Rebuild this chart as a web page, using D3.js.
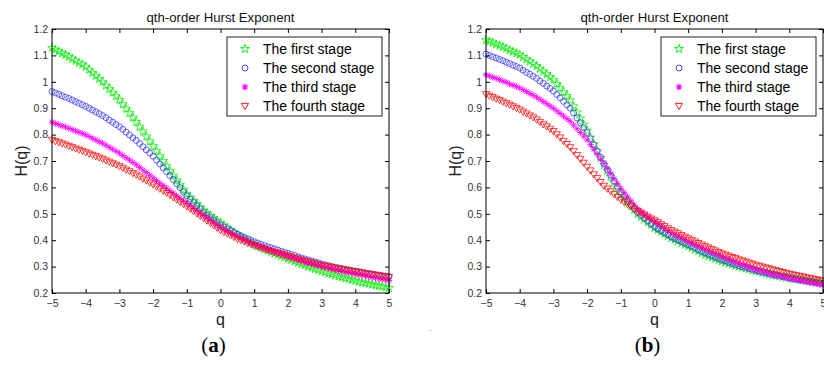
<!DOCTYPE html>
<html>
<head>
<meta charset="utf-8">
<script src="https://cdn.jsdelivr.net/npm/d3@7"></script>
<style>
  html, body { margin: 0; padding: 0; background: #ffffff; }
  svg { display: block; font-family: Arial, "Liberation Sans", Helvetica, sans-serif; }
</style>
</head>
<body>
<svg id="chart" width="824" height="365"></svg>
<script>
// ---------- data ----------
const q = [-5,-4.9,-4.8,-4.7,-4.6,-4.5,-4.4,-4.3,-4.2,-4.1,-4,-3.9,-3.8,-3.7,-3.6,-3.5,-3.4,-3.3,-3.2,-3.1,-3,-2.9,-2.8,-2.7,-2.6,-2.5,-2.4,-2.3,-2.2,-2.1,-2,-1.9,-1.8,-1.7,-1.6,-1.5,-1.4,-1.3,-1.2,-1.1,-1,-0.9,-0.8,-0.7,-0.6,-0.5,-0.4,-0.3,-0.2,-0.1,0,0.1,0.2,0.3,0.4,0.5,0.6,0.7,0.8,0.9,1,1.1,1.2,1.3,1.4,1.5,1.6,1.7,1.8,1.9,2,2.1,2.2,2.3,2.4,2.5,2.6,2.7,2.8,2.9,3,3.1,3.2,3.3,3.4,3.5,3.6,3.7,3.8,3.9,4,4.1,4.2,4.3,4.4,4.5,4.6,4.7,4.8,4.9,5];

const stageNames = ["The first stage", "The second stage", "The third stage", "The fourth stage"];

// panel (a)
const aFirst = [1.128,1.121,1.115,1.108,1.102,1.095,1.087,1.080,1.072,1.065,1.057,1.046,1.034,1.023,1.011,1.000,0.986,0.973,0.959,0.946,0.932,0.915,0.898,0.882,0.865,0.848,0.830,0.812,0.793,0.775,0.757,0.738,0.719,0.700,0.681,0.662,0.645,0.627,0.610,0.592,0.575,0.562,0.550,0.537,0.525,0.512,0.503,0.493,0.484,0.474,0.465,0.456,0.447,0.438,0.429,0.420,0.413,0.405,0.398,0.390,0.383,0.377,0.372,0.366,0.361,0.355,0.350,0.345,0.340,0.335,0.330,0.325,0.320,0.315,0.310,0.305,0.300,0.296,0.291,0.287,0.282,0.278,0.274,0.271,0.267,0.263,0.260,0.256,0.253,0.250,0.246,0.243,0.240,0.238,0.235,0.232,0.229,0.227,0.224,0.222,0.219];
const aSecond = [0.963,0.958,0.953,0.947,0.942,0.937,0.931,0.925,0.919,0.913,0.907,0.900,0.893,0.886,0.879,0.872,0.864,0.855,0.847,0.838,0.830,0.820,0.809,0.799,0.788,0.778,0.766,0.754,0.742,0.730,0.718,0.703,0.689,0.674,0.660,0.645,0.630,0.614,0.599,0.583,0.568,0.555,0.543,0.530,0.518,0.505,0.495,0.486,0.476,0.467,0.457,0.450,0.443,0.437,0.430,0.423,0.417,0.411,0.406,0.400,0.394,0.389,0.385,0.380,0.375,0.371,0.367,0.363,0.358,0.354,0.350,0.346,0.342,0.337,0.333,0.329,0.325,0.321,0.318,0.314,0.310,0.307,0.304,0.301,0.298,0.295,0.293,0.290,0.288,0.285,0.283,0.281,0.279,0.276,0.274,0.272,0.270,0.268,0.266,0.264,0.262];
const aThird = [0.847,0.842,0.838,0.833,0.829,0.824,0.819,0.814,0.809,0.804,0.799,0.793,0.786,0.780,0.773,0.767,0.760,0.752,0.745,0.737,0.730,0.721,0.712,0.704,0.695,0.686,0.676,0.666,0.656,0.646,0.636,0.626,0.616,0.607,0.597,0.587,0.578,0.568,0.559,0.549,0.540,0.531,0.521,0.512,0.502,0.493,0.484,0.475,0.466,0.457,0.448,0.441,0.434,0.427,0.420,0.413,0.407,0.401,0.396,0.390,0.384,0.379,0.374,0.370,0.365,0.360,0.356,0.351,0.347,0.342,0.338,0.334,0.330,0.326,0.322,0.318,0.314,0.311,0.307,0.304,0.300,0.297,0.294,0.291,0.288,0.285,0.282,0.280,0.277,0.275,0.272,0.269,0.267,0.264,0.262,0.259,0.257,0.254,0.252,0.249,0.247];
const aFourth = [0.780,0.775,0.771,0.766,0.762,0.757,0.752,0.747,0.743,0.738,0.733,0.728,0.723,0.718,0.713,0.708,0.702,0.697,0.691,0.686,0.680,0.674,0.667,0.661,0.654,0.648,0.641,0.633,0.626,0.618,0.611,0.603,0.595,0.587,0.579,0.571,0.562,0.554,0.545,0.537,0.528,0.519,0.510,0.501,0.492,0.483,0.474,0.465,0.456,0.447,0.438,0.431,0.425,0.418,0.412,0.405,0.400,0.395,0.390,0.385,0.380,0.376,0.372,0.367,0.363,0.359,0.355,0.351,0.348,0.344,0.340,0.336,0.332,0.329,0.325,0.321,0.318,0.315,0.311,0.308,0.305,0.302,0.300,0.297,0.295,0.292,0.290,0.288,0.285,0.283,0.281,0.279,0.277,0.274,0.272,0.270,0.268,0.266,0.264,0.262,0.260];

// panel (b)
const bFirst = [1.158,1.153,1.148,1.142,1.137,1.132,1.126,1.120,1.114,1.108,1.102,1.094,1.085,1.077,1.068,1.060,1.050,1.039,1.029,1.018,1.008,0.992,0.977,0.961,0.946,0.930,0.907,0.884,0.861,0.838,0.815,0.789,0.763,0.737,0.711,0.685,0.663,0.641,0.619,0.597,0.575,0.560,0.545,0.530,0.515,0.500,0.489,0.479,0.468,0.458,0.447,0.439,0.431,0.424,0.416,0.408,0.402,0.396,0.389,0.383,0.377,0.371,0.364,0.358,0.351,0.345,0.340,0.335,0.330,0.325,0.320,0.316,0.312,0.308,0.304,0.300,0.297,0.293,0.290,0.286,0.283,0.280,0.277,0.274,0.271,0.268,0.266,0.263,0.261,0.258,0.256,0.254,0.252,0.250,0.248,0.246,0.244,0.242,0.241,0.239,0.237];
const bSecond = [1.105,1.100,1.095,1.090,1.085,1.080,1.074,1.069,1.063,1.058,1.052,1.044,1.036,1.029,1.021,1.013,1.003,0.994,0.984,0.975,0.965,0.952,0.939,0.926,0.913,0.900,0.882,0.863,0.845,0.826,0.808,0.784,0.761,0.737,0.714,0.690,0.668,0.647,0.625,0.604,0.582,0.567,0.551,0.536,0.520,0.505,0.494,0.483,0.472,0.461,0.450,0.442,0.435,0.427,0.420,0.412,0.406,0.400,0.395,0.389,0.383,0.377,0.371,0.364,0.358,0.352,0.347,0.342,0.336,0.331,0.326,0.322,0.317,0.313,0.308,0.304,0.300,0.297,0.293,0.290,0.286,0.283,0.280,0.277,0.274,0.271,0.268,0.266,0.263,0.261,0.258,0.256,0.254,0.251,0.249,0.247,0.245,0.243,0.240,0.238,0.236];
const bThird = [1.027,1.022,1.017,1.013,1.008,1.003,0.998,0.992,0.987,0.982,0.977,0.970,0.963,0.956,0.949,0.942,0.934,0.925,0.917,0.908,0.900,0.890,0.880,0.870,0.860,0.850,0.836,0.822,0.808,0.794,0.780,0.762,0.744,0.726,0.708,0.690,0.671,0.652,0.633,0.614,0.595,0.580,0.564,0.549,0.533,0.518,0.508,0.499,0.489,0.480,0.470,0.462,0.453,0.445,0.436,0.428,0.421,0.415,0.408,0.402,0.395,0.389,0.383,0.377,0.371,0.365,0.360,0.354,0.349,0.343,0.338,0.333,0.328,0.322,0.317,0.312,0.307,0.302,0.298,0.293,0.288,0.285,0.281,0.278,0.274,0.271,0.268,0.265,0.261,0.258,0.255,0.252,0.250,0.247,0.245,0.242,0.240,0.237,0.235,0.232,0.230];
const bFourth = [0.953,0.947,0.942,0.936,0.931,0.925,0.919,0.913,0.907,0.901,0.895,0.887,0.880,0.872,0.865,0.857,0.848,0.839,0.831,0.822,0.813,0.801,0.789,0.776,0.764,0.752,0.737,0.722,0.708,0.693,0.678,0.664,0.649,0.635,0.620,0.606,0.595,0.585,0.574,0.564,0.553,0.545,0.536,0.528,0.519,0.511,0.504,0.497,0.489,0.482,0.475,0.468,0.460,0.453,0.445,0.438,0.432,0.426,0.419,0.413,0.407,0.401,0.395,0.389,0.383,0.377,0.372,0.366,0.361,0.355,0.350,0.345,0.341,0.336,0.332,0.327,0.323,0.319,0.315,0.311,0.307,0.303,0.300,0.296,0.293,0.289,0.286,0.283,0.279,0.276,0.273,0.270,0.267,0.265,0.262,0.259,0.257,0.254,0.252,0.249,0.247];

const xTicks = [-5,-4,-3,-2,-1,0,1,2,3,4,5];
const xTickLabels = ["\u22125","\u22124","\u22123","\u22122","\u22121","0","1","2","3","4","5"];
const yTicks = [0.2,0.3,0.4,0.5,0.6,0.7,0.8,0.9,1.0,1.1,1.2];
const yTickLabels = ["0.2","0.3","0.4","0.5","0.6","0.7","0.8","0.9","1","1.1","1.2"];

const chartTitle = "qth-order Hurst Exponent";
const xLabel = "q";
const yLabel = "H(q)";
const panelLabels = ["a", "b"];

// ---------- drawing ----------
const svg = d3.select("#chart");
svg.append("rect").attr("width", 824).attr("height", 365).attr("fill", "#ffffff");

const colors = ["#00ee00", "#3333ff", "#ff00ff", "#ff0000"];

// marker path generators (centered at 0,0)
const starPath = d3.symbol().type(d3.symbolStar).size(24)();
function markerPath(i) {
  if (i === 0) return starPath;
  if (i === 1) return "M3,0A3,3 0 1,1 -3,0A3,3 0 1,1 3,0Z";
  if (i === 2) return "M-3.2,0L3.2,0M0,-3.2L0,3.2M-2.3,-2.3L2.3,2.3M-2.3,2.3L2.3,-2.3";
  return "M-3.6,-2.6L3.6,-2.6L0,3.6Z";
}

const plotTop = 29, plotBottom = 293;
const panels = [
  { x0: 52, x1: 389, series: [aFirst, aSecond, aThird, aFourth], label: panelLabels[0] },
  { x0: 486, x1: 823, series: [bFirst, bSecond, bThird, bFourth], label: panelLabels[1] }
];

panels.forEach(p => {
  const x = d3.scaleLinear().domain([-5, 5]).range([p.x0, p.x1]);
  const y = d3.scaleLinear().domain([0.2, 1.2]).range([plotBottom, plotTop]);
  const g = svg.append("g");

  // markers
  p.series.forEach((vals, si) => {
    const sg = g.append("g");
    sg.selectAll("path")
      .data(q.map((qq, k) => [qq, vals[k]]))
      .join("path")
      .attr("transform", d => `translate(${x(d[0])},${y(d[1])})`)
      .attr("d", markerPath(si))
      .attr("fill", "none")
      .attr("stroke", colors[si])
      .attr("stroke-width", si === 2 ? 0.9 : 0.75);
  });

  // axes (inward ticks on all sides)
  const axStyle = sel => {
    sel.select(".domain").remove();
    sel.selectAll(".tick line").attr("stroke", "#000").attr("stroke-width", 1);
    sel.selectAll(".tick text").attr("fill", "#333").style("font-size", "10.5px")
      .style("font-family", "Arial, 'Liberation Sans', sans-serif");
  };
  g.append("g").attr("transform", `translate(0,${plotBottom})`)
    .call(d3.axisBottom(x).tickValues(xTicks).tickFormat((d, i) => xTickLabels[i]).tickSize(-4).tickPadding(7))
    .call(axStyle);
  g.append("g").attr("transform", `translate(0,${plotTop})`)
    .call(d3.axisTop(x).tickValues(xTicks).tickFormat("").tickSize(-4))
    .call(axStyle);
  g.append("g").attr("transform", `translate(${p.x0},0)`)
    .call(d3.axisLeft(y).tickValues(yTicks).tickFormat((d, i) => yTickLabels[i]).tickSize(-4).tickPadding(4))
    .call(axStyle);
  g.append("g").attr("transform", `translate(${p.x1},0)`)
    .call(d3.axisRight(y).tickValues(yTicks).tickFormat("").tickSize(-4))
    .call(axStyle);

  // frame
  g.append("rect")
    .attr("x", p.x0).attr("y", plotTop)
    .attr("width", p.x1 - p.x0).attr("height", plotBottom - plotTop)
    .attr("fill", "none").attr("stroke", "#000").attr("stroke-width", 1);

  const cx = (p.x0 + p.x1) / 2;
  // title
  g.append("text").attr("x", cx).attr("y", 22).attr("text-anchor", "middle")
    .attr("fill", "#111").style("font-size", "13.2px").text(chartTitle);
  // x label
  g.append("text").attr("x", cx).attr("y", 325).attr("text-anchor", "middle")
    .attr("fill", "#222").style("font-size", "16px").text(xLabel);
  // y label
  g.append("text")
    .attr("transform", `translate(${p.x0 - 25},${(plotTop + plotBottom) / 2}) rotate(-90)`)
    .attr("text-anchor", "middle").attr("fill", "#222").style("font-size", "16px").text(yLabel);
  // panel label
  const pl = g.append("text").attr("x", cx - 7).attr("y", 352).attr("text-anchor", "middle")
    .attr("fill", "#000").style("font-size", "21px")
    .style("font-family", "'Liberation Serif', 'DejaVu Serif', serif");
  pl.append("tspan").text("(");
  pl.append("tspan").attr("font-weight", "bold").text(p.label);
  pl.append("tspan").text(")");

  // legend
  const lx = p.x1 - 162, ly = 37, lw = 155, lh = 79;
  const lg = g.append("g");
  lg.append("rect").attr("x", lx).attr("y", ly).attr("width", lw).attr("height", lh)
    .attr("fill", "#fff").attr("stroke", "#222").attr("stroke-width", 1);
  stageNames.forEach((name, i) => {
    const ry = ly + 12 + i * 19;
    lg.append("path").attr("transform", `translate(${lx + 18},${ry})`)
      .attr("d", markerPath(i)).attr("fill", "none").attr("stroke", colors[i])
      .attr("stroke-width", i === 2 ? 1.1 : 0.9);
    lg.append("text").attr("x", lx + 36).attr("y", ry).attr("dy", "0.36em")
      .attr("fill", "#000").style("font-size", "14px").text(name);
  });
});

// small stray dot between panels
svg.append("text").attr("x", 429).attr("y", 331).attr("fill", "#777")
  .style("font-size", "9px").text(".");
</script>
</body>
</html>
